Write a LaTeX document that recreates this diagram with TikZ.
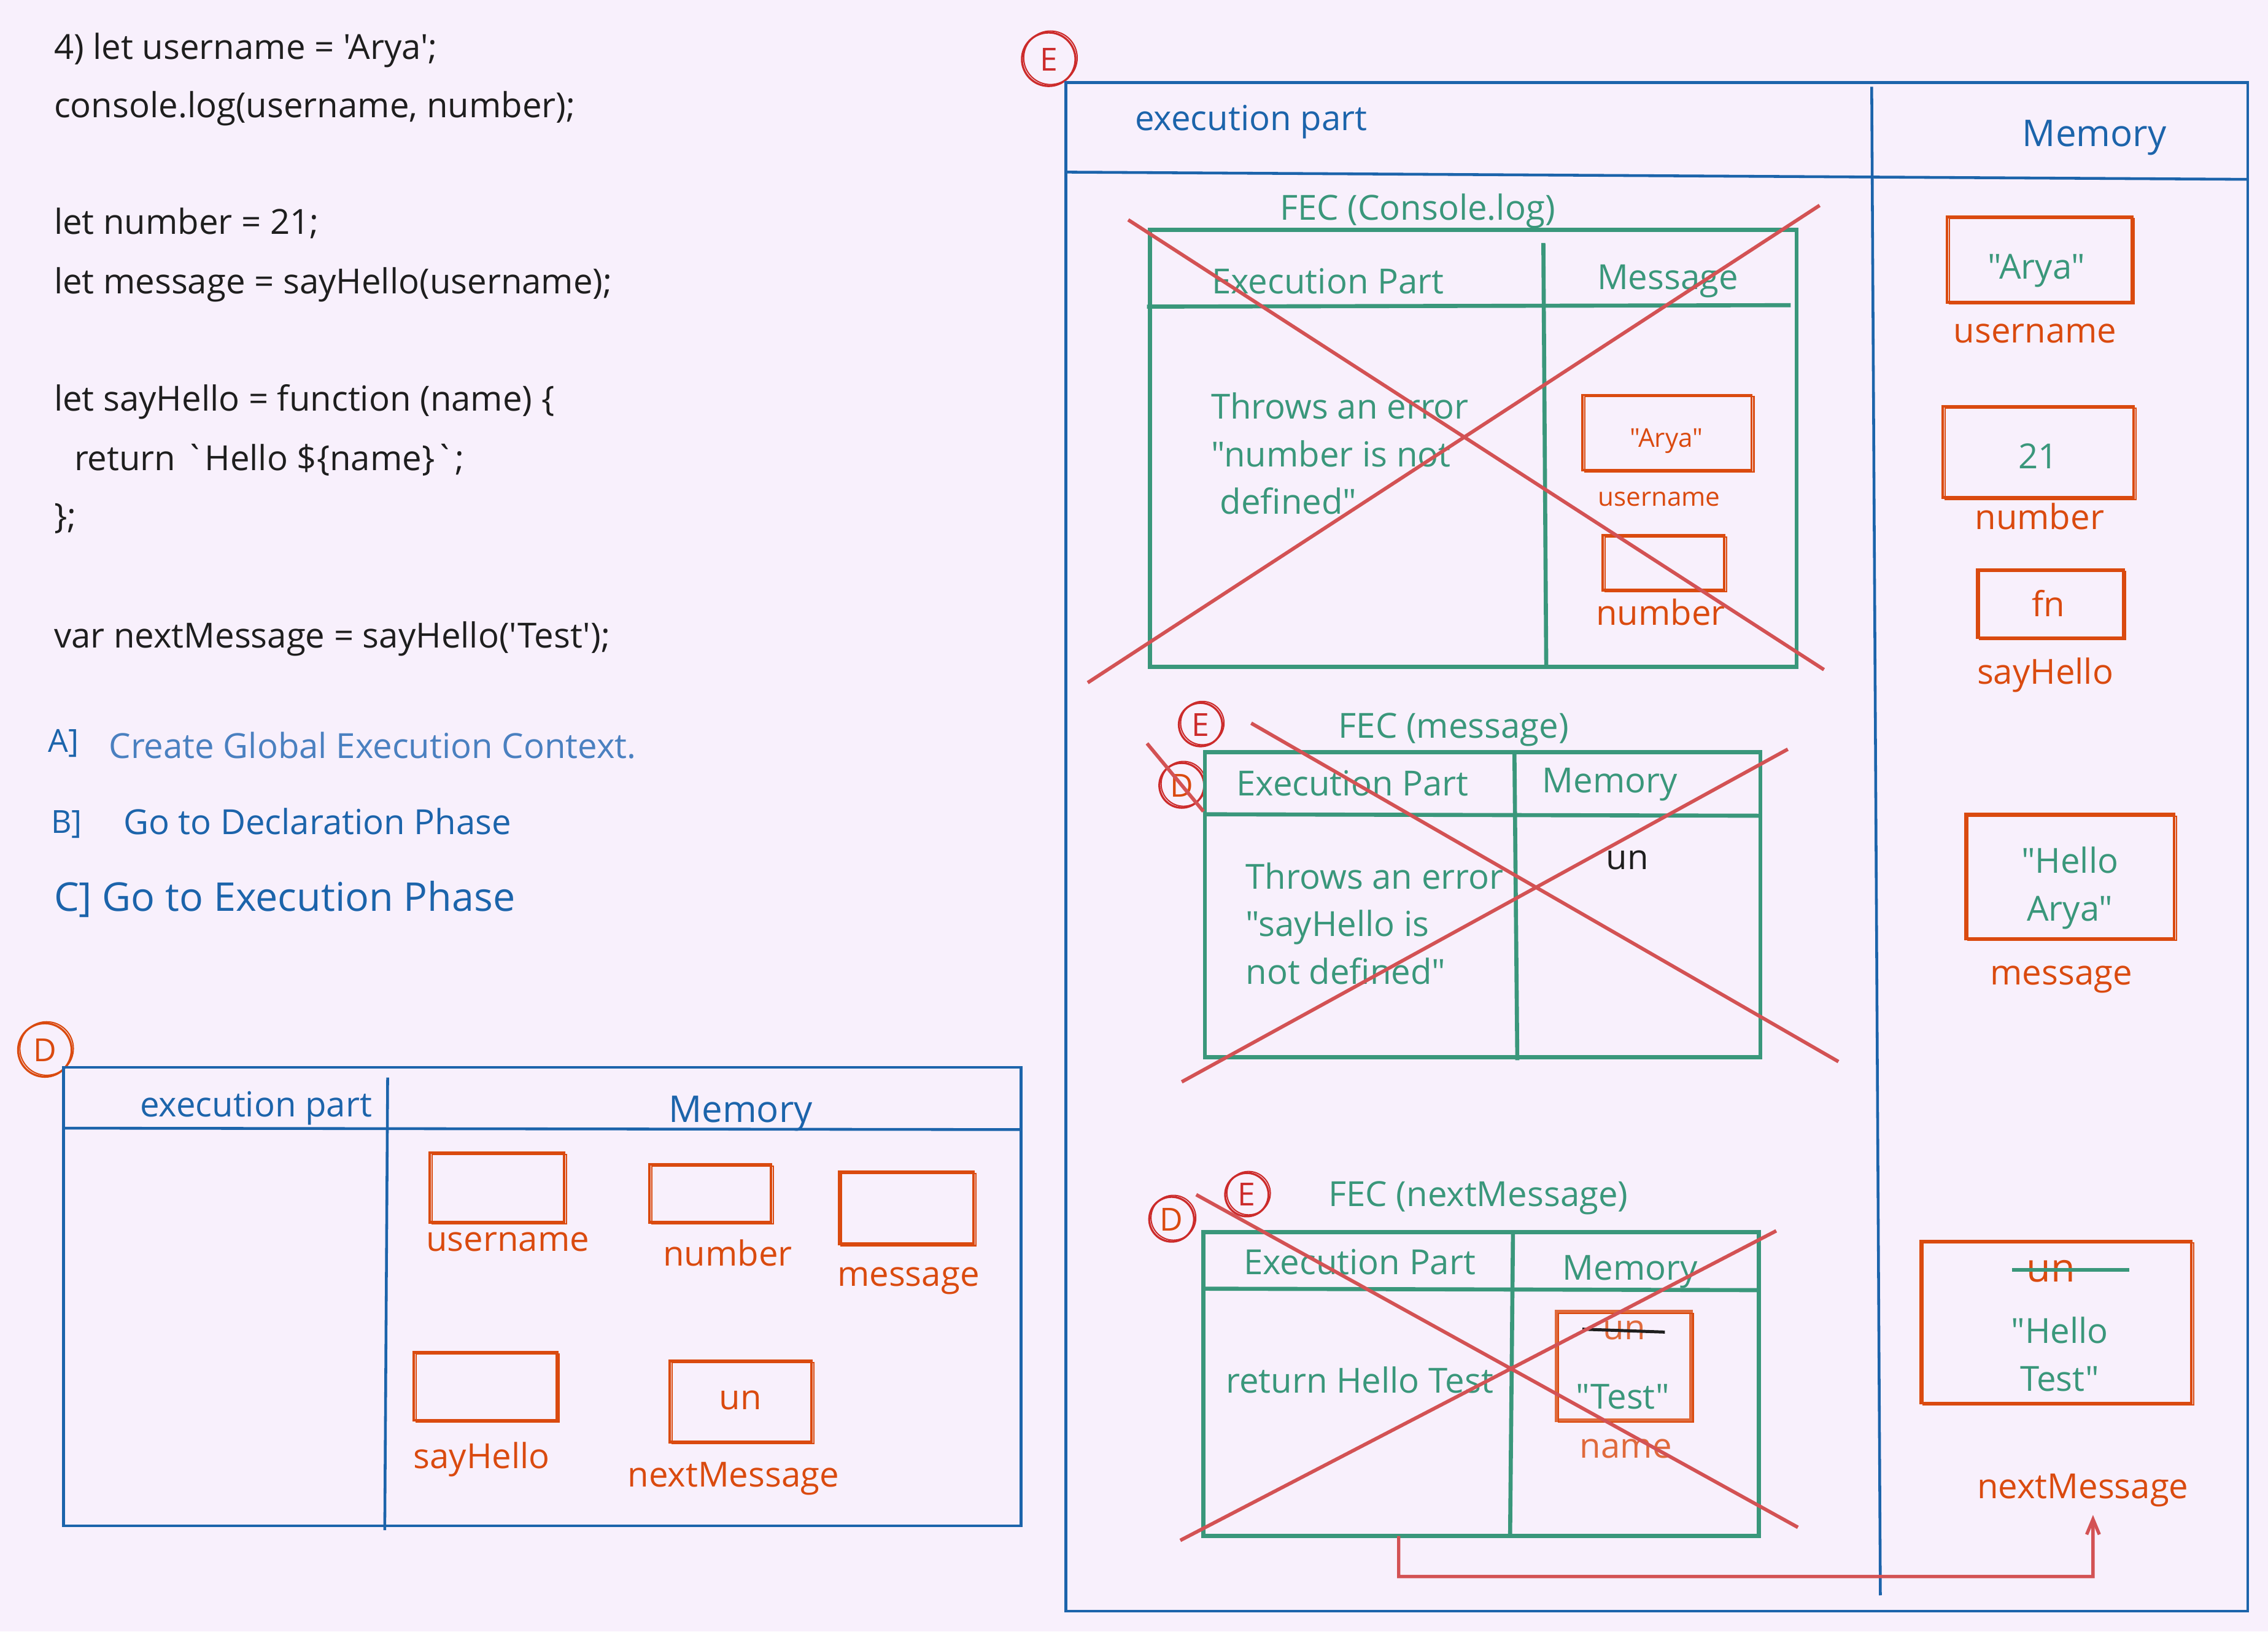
\documentclass[tikz,border=0pt]{standalone}
\usepackage{fontspec}
\setmainfont{Open Sans}[Ligatures=TeXOff]
\usetikzlibrary{arrows.meta, positioning}
\definecolor{BLU}{HTML}{1C64AB}
\definecolor{LBLU}{HTML}{4A80C0}
\definecolor{GRN}{HTML}{3A977B}
\definecolor{ORG}{HTML}{DA4A0F}
\definecolor{LORG}{HTML}{E06A3C}
\definecolor{CRS}{HTML}{D35254}
\definecolor{ERED}{HTML}{CC2B2B}
\definecolor{BG}{HTML}{F8F0FC}
\definecolor{INK}{HTML}{1E1E1E}
\newcommand\fs[1]{\fontsize{#1}{#1}\selectfont}
\tikzset{
  txt/.style={inner sep=0pt, text height=0.92em, text depth=0pt},
  code/.style={txt, anchor=west, text=INK, font=\fs{13.6}},
  head/.style={txt, text=BLU, font=\fs{13.6}},
  lbl/.style={txt, text=ORG, font=\fs{13.6}},
  grn/.style={txt, text=GRN, font=\fs{13.6}},
  para/.style={inner sep=0pt, anchor=north west, align=left, text=GRN,
      font=\fontsize{13.6}{18.8}\selectfont},
  frame/.style={draw=BLU, line width=1.1pt},
  fec/.style={draw=GRN, line width=1.6pt},
  cross/.style={draw=CRS, line width=1.4pt},
  memb/.style={draw=ORG, line width=1.1pt, inner sep=0pt, text=GRN,
      font=\fs{13.6}, text height=1.05em, text depth=0pt,
      postaction={draw=ORG, line width=0.5pt,
        transform canvas={shift={(0.9pt,-0.7pt)}}}},
  tag/.style={circle, draw=#1, line width=0.8pt, minimum size=0.74cm,
      inner sep=0pt, font=\fs{12.5},
      postaction={draw=#1, line width=0.5pt,
        transform canvas={shift={(0.7pt,0.6pt)}}}},
  arr/.style={draw=CRS, line width=1.3pt, -{Straight Barb[length=6pt,width=5pt]}},
}
\begin{document}
\begin{tikzpicture}[x=0.02cm, y=-0.02cm]
  \useasboundingbox[fill=BG] (0,0) rectangle (1568,1128);

  % source lines
  \foreach \y/\t in {33/{4) let username = 'Arya';},
                     73/{console.log(username, number);},
                     154/{let number = 21;},
                     195/{let message = sayHello(username);},
                     276/{let sayHello = function (name) \{},
                     357/{\};},
                     440/{var nextMessage = sayHello('Test');}}
    \node[code] (code\y) at (37,\y) {\t};
  \node[code] (code317) at (51,317) {return `Hello \$\{name\}`;};

  % steps
  \node[head, anchor=west, font=\fs{12.5}] (stepA) at (33,512) {A]};
  \node[head, anchor=west, text=LBLU] (stepAt) at (75,516) {Create Global Execution Context.};
  \node[head, anchor=west, font=\fs{12.5}] (stepB) at (35,568) {B]};
  \node[head, anchor=west] (stepBt) at (85,569) {Go to Declaration Phase};
  \node[head, anchor=west, font=\fs{15.6}] (stepC) at (37,622) {C] Go to Execution Phase};

  % declaration phase (global)
  \node[tag=ORG, text=ORG] (tagD) at (31,726) {D};
  \draw[frame] (44,738) rectangle (706,1055);
  \draw[frame] (45,780) -- (706,781);
  \draw[frame] (268,745) -- (266,1058);
  \node[head] (gexec) at (177,764) {execution part};
  \node[head, font=\fs{14.5}] (gmem) at (512,768) {Memory};
  \node[memb, minimum width=93*0.02cm, minimum height=48*0.02cm] (gUser) at (343.5,821) {};
  \node[lbl] (gUserL) at (351,857) {username};
  \node[memb, minimum width=84*0.02cm, minimum height=40*0.02cm] (gNum) at (491,825) {};
  \node[lbl] (gNumL) at (503,867) {number};
  \node[memb, minimum width=93*0.02cm, minimum height=50*0.02cm] (gMsg) at (626.5,835) {};
  \node[lbl] (gMsgL) at (628,881) {message};
  \node[memb, minimum width=99*0.02cm, minimum height=47*0.02cm] (gSay) at (335.5,958.5) {};
  \node[lbl] (gSayL) at (333,1007) {sayHello};
  \node[memb, minimum width=98*0.02cm, minimum height=56*0.02cm, text=ORG,
        text height=0.62em] (gNext) at (512,969) {un};
  \node[lbl] (gNextL) at (507,1020) {nextMessage};

  % execution phase
  \node[tag=ERED, text=ERED] (tagE) at (725,41) {E};
  \draw[frame] (737,57) rectangle (1554,1114);
  \draw[frame] (737,119) -- (1554,124);
  \draw[frame] (1294,60) -- (1300,1103);
  \node[head] (eexec) at (865,82) {execution part};
  \node[head, font=\fs{14.5}] (emem) at (1448,93) {Memory};

  % memory column
  \node[memb, minimum width=128*0.02cm, minimum height=59*0.02cm] (mUser) at (1410,179.5) {};
  \node[grn] (mUserV) at (1408,185) {"Arya"};
  \node[lbl] (mUserL) at (1407,229) {username};
  \node[memb, minimum width=132*0.02cm, minimum height=63*0.02cm] (mNum) at (1409,312.5) {};
  \node[grn] (mNumV) at (1409,316) {21};
  \node[lbl] (mNumL) at (1410,358) {number};
  \node[memb, minimum width=101*0.02cm, minimum height=47*0.02cm] (mSay) at (1417.5,417.5) {};
  \node[lbl] (mSayV) at (1416,418) {fn};
  \node[lbl] (mSayL) at (1414,465) {sayHello};
  \node[memb, minimum width=144*0.02cm, minimum height=86*0.02cm] (mMsg) at (1431,606) {};
  \node[grn, align=center, text height=, font=\fontsize{13.6}{18.8}\selectfont] (mMsgV) at (1431,611) {"Hello\\ Arya"};
  \node[lbl] (mMsgL) at (1425,673) {message};
  \node[memb, minimum width=187*0.02cm, minimum height=112*0.02cm] (mNext) at (1421.5,914) {};
  \node[lbl, font=\fs{15.6}] (mNextU) at (1418,878) {un};
  \draw[draw=GRN, line width=1.4pt] (1391,878) -- (1472,878);
  \node[grn, align=center, text height=, font=\fontsize{13.6}{18.8}\selectfont] (mNextV) at (1424,936) {"Hello\\ Test"};
  \node[lbl] (mNextL) at (1440,1028) {nextMessage};

  % FEC console.log
  \node[grn] (f1title) at (980,144) {FEC (Console.log)};
  \draw[fec] (795,159) rectangle (1242,461);
  \draw[fec] (793,212) -- (1238,211);
  \draw[fec] (1067,168) -- (1069,461);
  \node[grn] (f1exec) at (918,195) {Execution Part};
  \node[grn] (f1mem) at (1153,192) {Message};
  \node[para] (f1err) at (837,271) {Throws an error\\"number is not\\\ defined"};
  \node[memb, line width=0.8pt, postaction={}, minimum width=117*0.02cm,
        minimum height=52*0.02cm] (f1user) at (1152.5,299) {};
  \node[lbl, font=\fs{10.2}] (f1userV) at (1152,301) {"Arya"};
  \node[lbl, font=\fs{10.2}] (f1userL) at (1147,342) {username};
  \node[memb, minimum width=84*0.02cm, minimum height=38*0.02cm] (f1num) at (1150,389) {};
  \node[lbl] (f1numL) at (1148,424) {number};
  \draw[cross] (780,152) -- (1261,463);
  \draw[cross] (752,472) -- (1258,142);

  % FEC message
  \node[tag=ERED, text=ERED, minimum size=0.6cm] (tagE2) at (830,501) {E};
  \node[tag=ERED, text=ORG, minimum size=0.62cm] (tagD2) at (817,543) {D};
  \node[grn] (f2title) at (1005,502) {FEC (message)};
  \draw[fec] (833,520) rectangle (1217,731);
  \draw[fec] (833,563) -- (1217,564);
  \draw[fec] (1047,521) -- (1049,733);
  \node[grn] (f2exec) at (935,542) {Execution Part};
  \node[grn] (f2mem) at (1113,540) {Memory};
  \node[para] (f2err) at (861,596) {Throws an error\\"sayHello is\\not defined"};
  \node[code, anchor=center, text=INK] (f2un) at (1125,593) {un};
  \draw[cross] (865,500) -- (1271,734);
  \draw[cross] (817,748) -- (1236,518);
  \draw[cross] (793,514) -- (832,561);

  % FEC nextMessage
  \node[tag=ERED, text=ERED, minimum size=0.6cm] (tagE3) at (862,826) {E};
  \node[tag=ERED, text=ORG, minimum size=0.62cm] (tagD3) at (810,843) {D};
  \node[grn] (f3title) at (1022,826) {FEC (nextMessage)};
  \draw[fec] (832,852) rectangle (1216,1062);
  \draw[fec] (832,891) -- (1216,892);
  \draw[fec] (1046,853) -- (1044,1062);
  \node[grn] (f3exec) at (940,873) {Execution Part};
  \node[grn] (f3mem) at (1127,877) {Memory};
  \node[grn] (f3ret) at (940,955) {return Hello Test};
  \node[memb, draw=LORG, line width=1.5pt, postaction={}, minimum width=93*0.02cm,
        minimum height=75*0.02cm] (f3name) at (1122.5,944.5) {};
  \node[lbl, text=LORG] (f3un) at (1123,918) {un};
  \draw[draw=INK, line width=1.2pt] (1094,919) -- (1151,921);
  \node[grn] (f3test) at (1122,966) {"Test"};
  \node[lbl, text=LORG] (f3nameL) at (1124,1000) {name};
  \draw[cross] (827,826) -- (1243,1056);
  \draw[cross] (816,1065) -- (1228,851);

  % result goes back to memory
  \coordinate (f3out) at (967,1062);
  \draw[arr] (f3out) |- (1447,1090) -- ([xshift=0.14cm, yshift=-0.22cm]mNextL.south);
\end{tikzpicture}
\end{document}
